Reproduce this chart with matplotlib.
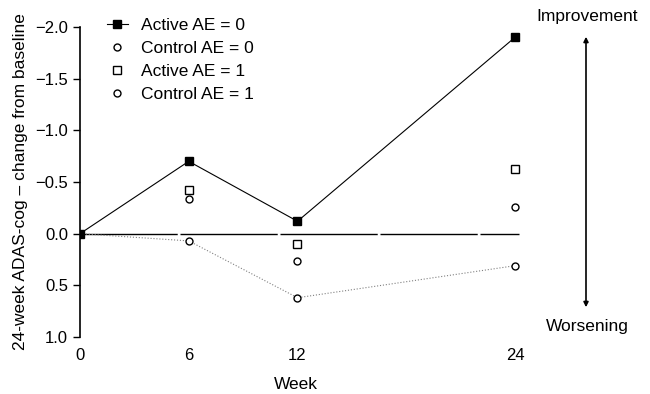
import matplotlib.pyplot as plt

plt.rcParams['font.family'] = ['Liberation Sans', 'DejaVu Sans']

weeks = [0, 6, 12, 24]
active_ae0 = [0.0, -0.70, -0.12, -1.90]
control_ae0 = [0.0, 0.07, 0.62, 0.31]
active_ae1 = [0.0, -0.42, 0.10, -0.63]
control_ae1 = [0.0, -0.34, 0.26, -0.26]
yticks = [-2.0, -1.5, -1.0, -0.5, 0.0, 0.5, 1.0]

fig = plt.figure(figsize=(6.5, 3.94), dpi=100)
ax = fig.add_axes([80 / 650, 1 - 337 / 394, 560 / 650, 310 / 394])

# zero reference line
ax.plot([0, 24.2], [0, 0], color='black', lw=1.0, dashes=(70, 2), zorder=1)

# dotted trend through the lower control points
ax.plot(weeks, control_ae0, color='gray', lw=0.8, ls=':', zorder=1)

ax.plot(weeks, active_ae0, color='black', lw=0.8, marker='s', ms=6,
        mfc='black', mec='black', label='Active AE = 0', zorder=3)
ax.plot(weeks[1:], control_ae0[1:], ls='none', marker='o', ms=5,
        mfc='white', mec='black', mew=1.0, label='Control AE = 0', zorder=3)
ax.plot(weeks[1:], active_ae1[1:], ls='none', marker='s', ms=6,
        mfc='white', mec='black', mew=1.0, label='Active AE = 1', zorder=3)
ax.plot(weeks[1:], control_ae1[1:], ls='none', marker='o', ms=5,
        mfc='white', mec='black', mew=1.0, label='Control AE = 1', zorder=3)

ax.set_xlim(0, 560 / 18.125)
ax.set_ylim(1.0, -2.0)
ax.set_yticks(yticks)
ax.set_yticklabels(['\u22122.0', '\u22121.5', '\u22121.0', '\u22120.5', '0.0', '0.5', '1.0'])
ax.set_xticks(weeks)
ax.tick_params(axis='x', length=0, pad=8, labelsize=12)
ax.tick_params(axis='y', length=5, width=1, labelsize=12, direction='out')
for s in ['top', 'right', 'bottom']:
    ax.spines[s].set_visible(False)
ax.spines['left'].set_linewidth(1.2)

ax.set_xlabel('Week', fontsize=12.5, labelpad=10, x=(296 - 80) / 560)
ax.set_ylabel('24-week ADAS-cog \u2013 change from baseline', fontsize=12.5, labelpad=5)

fig.legend(loc='upper left', bbox_to_anchor=(107 / 650, 1 - 18 / 394),
           bbox_transform=fig.transFigure, frameon=False, borderpad=0,
           borderaxespad=0, fontsize=12.5, handlelength=1.2,
           handletextpad=0.75, labelspacing=0.45)

# improvement / worsening arrow
ax.annotate('', xy=(586 / 650, 1 - 34 / 394), xytext=(586 / 650, 1 - 310 / 394),
            xycoords='figure fraction', textcoords='figure fraction',
            arrowprops=dict(arrowstyle='<|-|>', color='black', lw=1.2,
                            mutation_scale=7))
fig.text(587 / 650, 1 - 16 / 394, 'Improvement', ha='center', va='center', fontsize=12.5)
fig.text(587 / 650, 1 - 327 / 394, 'Worsening', ha='center', va='center', fontsize=12.5)

fig.savefig('out.png', dpi=100)
